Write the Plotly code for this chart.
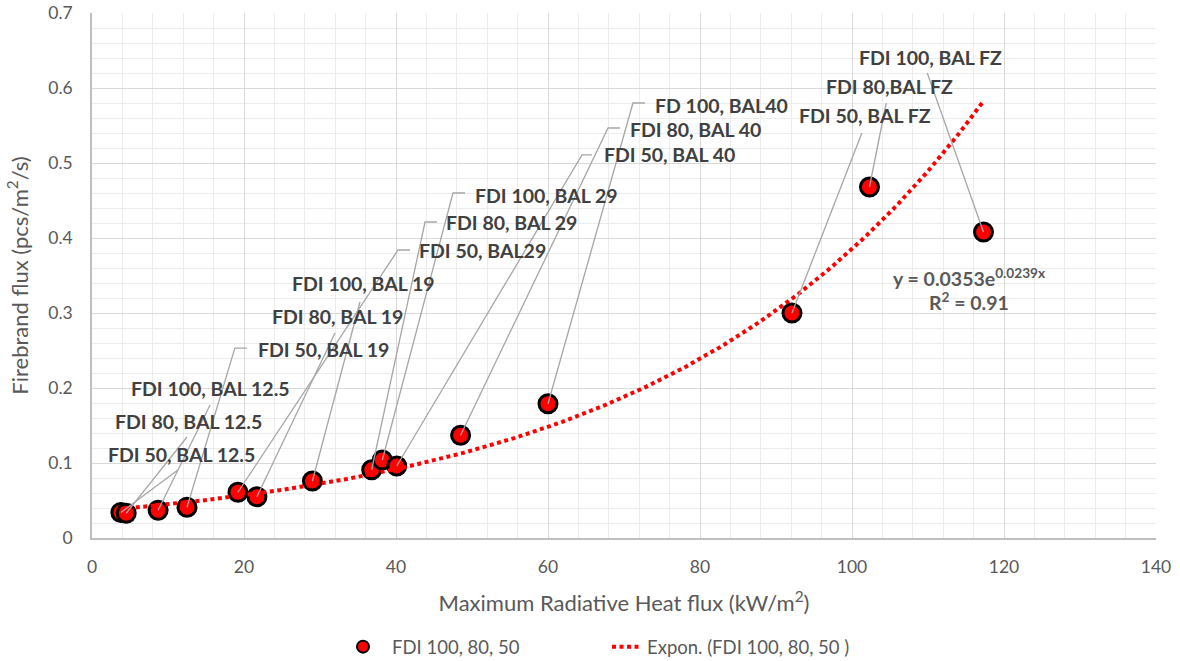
import numpy as np
import plotly.graph_objects as go

# Measured points: maximum radiative heat flux (kW/m2) vs firebrand flux (pcs/m2/s)
heat_flux = [3.8, 4.5, 8.7, 12.5, 19.2, 21.7, 29.0, 36.8, 38.2, 40.1, 48.5, 60.0, 92.1, 102.3, 117.3]
firebrand_flux = [0.034, 0.033, 0.037, 0.041, 0.061, 0.055, 0.076, 0.091, 0.104, 0.096,
                  0.137, 0.179, 0.300, 0.468, 0.408]
point_labels = ["FDI 50, BAL 12.5", "FDI 80, BAL 12.5", "FDI 100, BAL 12.5", "FDI 50, BAL 19",
                "FDI 50, BAL29", "FDI 80, BAL 19", "FDI 100, BAL 19", "FDI 80, BAL 29",
                "FDI 100, BAL 29", "FDI 50, BAL 40", "FDI 80, BAL 40", "FD 100, BAL40",
                "FDI 50, BAL FZ", "FDI 80,BAL FZ", "FDI 100, BAL FZ"]

# Exponential trendline y = a * exp(b * x)
trend_a = 0.0353
trend_b = 0.0239
r_squared = 0.91

# Data-label placement (left edge, vertical centre), in axis units
label_x = [1.84, 2.72, 4.91, 21.54, 42.8, 23.42, 26.05, 46.36, 50.09, 67.07, 70.57, 73.78, 92.8, 96.3, 100.7]
label_y = [0.1116, 0.156, 0.1996, 0.2507, 0.383, 0.295, 0.3387, 0.4204, 0.4573, 0.5107, 0.5453,
           0.5773, 0.5627, 0.6017, 0.641]
# Leader-line waypoints from each point towards its label
leader_paths = [
    [(11.3, 0.0907)],
    [(12.5, 0.1347)],
    [(15.53, 0.1773)],
    [(18.8, 0.2533), (20.4, 0.2533)],
    [(40.26, 0.384), (41.84, 0.384)],
    [(31.97, 0.2733)],
    [(35.26, 0.3147)],
    [(43.82, 0.4213), (45.39, 0.4213)],
    [(47.5, 0.46), (49.08, 0.46)],
    [(64.47, 0.5107), (65.79, 0.5107)],
    [(67.9, 0.5467), (69.47, 0.5467)],
    [(71.18, 0.58), (72.76, 0.58)],
    [(101.3, 0.54)],
    [(104.5, 0.58)],
    [(109.9, 0.62)],
]

FONT = "Lato"
TEXT_GREY = "#595959"
LABEL_GREY = "#404040"

trend_x = np.linspace(min(heat_flux), max(heat_flux), 300)
trend_y = trend_a * np.exp(trend_b * trend_x)

fig = go.Figure()
fig.add_trace(go.Scatter(
    x=heat_flux, y=firebrand_flux, mode="markers", name="FDI 100, 80, 50",
    marker=dict(size=18, color="#ff0000", line=dict(color="#000000", width=3)),
    legend="legend", showlegend=True,
))
fig.add_trace(go.Scatter(
    x=trend_x, y=trend_y, mode="lines", name="Expon. (FDI 100, 80, 50 )",
    line=dict(color="#ff0000", width=4, dash="4px,3.5px"),
    legend="legend2", showlegend=True,
))

shapes = []
annotations = []
for px, py, text, lx, ly, path in zip(heat_flux, firebrand_flux, point_labels,
                                       label_x, label_y, leader_paths):
    pts = [(px, py)] + path
    d = "M {} {}".format(*pts[0]) + "".join(" L {} {}".format(x, y) for x, y in pts[1:])
    shapes.append(dict(type="path", xref="x", yref="y", path=d,
                       line=dict(color="#a6a6a6", width=1.3)))
    annotations.append(dict(x=lx, y=ly, xref="x", yref="y", text=text, showarrow=False,
                            xanchor="left", yanchor="middle",
                            font=dict(family=FONT, size=19.5, color=LABEL_GREY, weight="bold")))

annotations.append(dict(x=115.4, y=0.3467, xref="x", yref="y",
                        text="y = {}e<sup>{}x</sup>".format(trend_a, trend_b),
                        showarrow=False, xanchor="center", yanchor="middle",
                        font=dict(family=FONT, size=19.5, color=TEXT_GREY, weight="bold")))
annotations.append(dict(x=115.4, y=0.3147, xref="x", yref="y",
                        text="R<sup>2</sup> = {}".format(r_squared),
                        showarrow=False, xanchor="center", yanchor="middle",
                        font=dict(family=FONT, size=19.5, color=TEXT_GREY, weight="bold")))

legend_style = dict(orientation="h", yref="container", y=0.021, yanchor="middle",
                    xref="container", xanchor="left",
                    bgcolor="rgba(0,0,0,0)",
                    font=dict(family=FONT, size=18.5, color=TEXT_GREY))

fig.update_layout(
    width=1180, height=661,
    margin=dict(l=92, r=24, t=13, b=123),
    paper_bgcolor="white", plot_bgcolor="white",
    font=dict(family=FONT, color=TEXT_GREY),
    showlegend=True,
    shapes=shapes, annotations=annotations,
    legend=dict(legend_style, x=334 / 1180, itemwidth=48, itemsizing="constant"),
    legend2=dict(legend_style, x=607 / 1180, itemwidth=30),
    xaxis=dict(
        range=[0, 140], dtick=20, tick0=0, automargin=False,
        showgrid=True, gridcolor="#d9d9d9", gridwidth=1,
        minor=dict(dtick=4, showgrid=True, gridcolor="#ececec", gridwidth=1),
        showline=True, linecolor="#bfbfbf", linewidth=1.5, zeroline=False,
        tickfont=dict(family=FONT, size=17.5, color=TEXT_GREY),
        ticklabelstandoff=12,
        title=dict(text="Maximum Radiative Heat flux (kW/m<sup>2</sup>)",
                   font=dict(family=FONT, size=22, color=TEXT_GREY), standoff=20),
    ),
    yaxis=dict(
        range=[0, 0.7], dtick=0.1, tick0=0, automargin=False,
        showgrid=True, gridcolor="#d9d9d9", gridwidth=1,
        minor=dict(dtick=0.02, showgrid=True, gridcolor="#ececec", gridwidth=1),
        showline=True, linecolor="#bfbfbf", linewidth=1.5, zeroline=False,
        tickfont=dict(family=FONT, size=17.5, color=TEXT_GREY),
        ticklabelstandoff=14,
        title=dict(text="Firebrand flux (pcs/m<sup>2</sup>/s)",
                   font=dict(family=FONT, size=22, color=TEXT_GREY), standoff=14),
    ),
)

fig.write_html("out.html")
